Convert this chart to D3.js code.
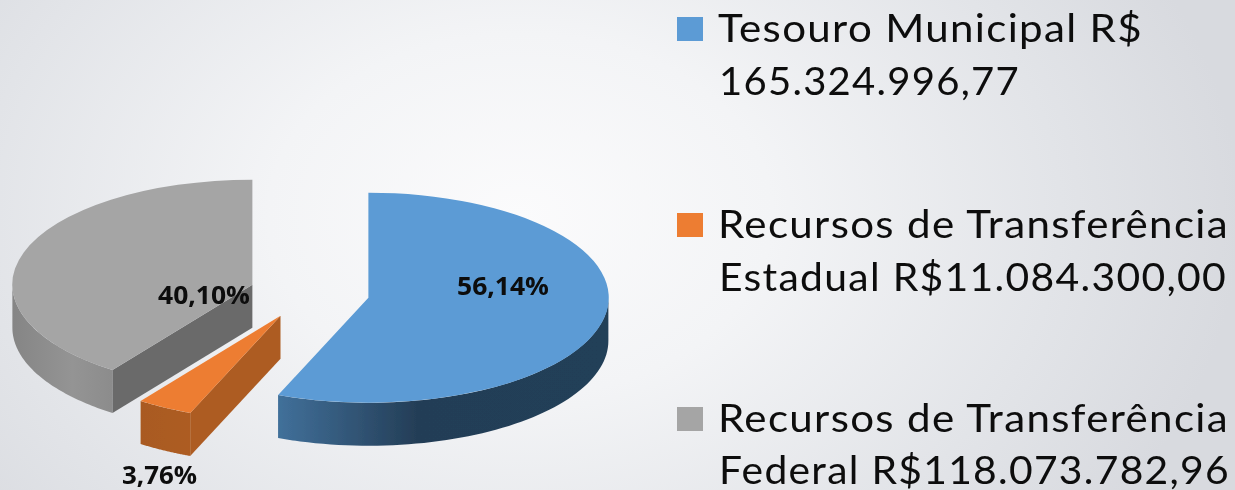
<!DOCTYPE html>
<html><head><meta charset="utf-8">
<style>html,body{margin:0;padding:0;background:#eee}svg{display:block}text{font-family:Lato,"Open Sans",sans-serif}text.val{font-family:"Open Sans",Lato,sans-serif}</style>
<script src="https://cdn.jsdelivr.net/npm/d3@7/dist/d3.min.js"></script></head>
<body><script>
const categories = ["Tesouro Municipal", "Recursos de Transferência Estadual", "Recursos de Transferência Federal"];
const values = [165324996.77, 11084300.00, 118073782.96];
const legendLine1 = ["Tesouro Municipal R$", "Recursos de Transferência", "Recursos de Transferência"];
const legendLine2 = ["165.324.996,77", "Estadual R$11.084.300,00", "Federal R$118.073.782,96"];
const topColors = ["#5b9bd5", "#ed7d31", "#a5a5a5"];
const edgeColors = ["#243f58", "#ad5c23", "#6b6b6b"];
const wallStops = [
  [["#41709a",0],["#243e57",0.42],["#243f58",1]],
  [["#a95a20",0],["#ad5c23",1]],
  [["#858585",0],["#949494",0.6],["#8c8c8c",1]]
];

const W=1235,H=490, cx=309.5, cy=292.7, rx=240, ry=105, depth=43, explode=60;
const svg=d3.select("body").append("svg").attr("width",W).attr("height",H);
const defs=svg.append("defs");
defs.append("filter").attr("id","soft").attr("x","-5%").attr("y","-5%").attr("width","110%").attr("height","110%")
  .append("feGaussianBlur").attr("stdDeviation",0.45);
const bg=defs.append("radialGradient").attr("id","bg").attr("gradientUnits","userSpaceOnUse")
  .attr("cx",520).attr("cy",215).attr("r",720).attr("gradientTransform","translate(520 215) scale(1 .72) translate(-520 -215)");
[["0","#fbfbfc"],["0.35","#f3f4f6"],["0.75","#e2e4e8"],["1","#d8dadf"]].forEach(s=>bg.append("stop").attr("offset",s[0]).attr("stop-color",s[1]));
svg.append("rect").attr("width",W).attr("height",H).attr("fill","url(#bg)");
const chart=svg.append("g").attr("filter","url(#soft)");

const pie=d3.pie().sort(null).value(d=>d).startAngle(0).endAngle(2*Math.PI);
const arcs=pie(values);
const total=d3.sum(values);
const fmt=v=>d3.format(".2f")(v/total*100).replace(".",",")+"%";
const arcGen=d3.arc().innerRadius(0).outerRadius(1);
const px=d3.scaleLinear().domain([-1,1]).range([-rx,rx]);
const py=d3.scaleLinear().domain([-1,1]).range([-ry,ry]);
const pt=(a,r=1)=>[px(r*Math.sin(a)),py(-r*Math.cos(a))];
const line=d3.line();

// back-to-front: grey, orange, blue
[2,1,0].forEach(i=>{
  const d=arcs[i], mid=(d.startAngle+d.endAngle)/2;
  const off=[cx+explode*Math.sin(mid), cy-explode*Math.cos(mid)*ry/rx];
  const g=chart.append("g").attr("transform",`translate(${off[0]},${off[1]})`);
  // outer wall
  const a0=Math.max(d.startAngle,Math.PI/2), a1=Math.min(d.endAngle,3*Math.PI/2);
  if(a1>a0){
    const gid="wall"+i, xa=d3.min([pt(a0)[0],pt(a1)[0]]), xb=d3.max([pt(a0)[0],pt(a1)[0]]);
    const gr=defs.append("linearGradient").attr("id",gid).attr("gradientUnits","userSpaceOnUse")
      .attr("x1",xa).attr("x2",xb).attr("y1",0).attr("y2",0);
    wallStops[i].forEach(s=>gr.append("stop").attr("offset",s[1]).attr("stop-color",s[0]));
    const as=d3.range(0,61).map(k=>a0+(a1-a0)*k/60);
    const top=as.map(a=>pt(a));
    const bot=as.map(a=>pt(a)).map(p=>[p[0],p[1]+depth]).reverse();
    g.append("path").attr("d",line(top.concat(bot))+"Z").attr("fill",`url(#${gid})`);
  }
  // cut-edge wall
  if(Math.sin(d.startAngle)<0){
    const p=pt(d.startAngle);
    g.append("path").attr("d",line([[0,0],p,[p[0],p[1]+depth],[0,depth]])+"Z").attr("fill",edgeColors[i]);
  }
  // top face
  g.append("path").attr("d",arcGen(d)).attr("transform",`scale(${rx},${ry})`).attr("fill",topColors[i]);
});

// value labels (same order as values)
const labelPos=[[503,295,92],[159.5,484,75],[204,304,92]];
arcs.forEach((d,i)=>{
  chart.append("text").attr("class","val").attr("x",labelPos[i][0]).attr("y",labelPos[i][1]).attr("text-anchor","middle")
    .attr("font-size",25).attr("font-weight",700).attr("fill","#0a0a0a")
    .attr("textLength",labelPos[i][2]).attr("lengthAdjust","spacingAndGlyphs").text(fmt(d.value));
});

// legend
const legY=[42,238,432], legGap=[52.5,52.5,51.5];
const w1=[425,511,511], w2=[301,508,511];
categories.forEach((c,i)=>{
  chart.append("rect").attr("x",677).attr("y",legY[i]-25).attr("width",26).attr("height",24).attr("fill",topColors[i]);
  const t=chart.append("g").attr("fill","#0a0a0a").attr("font-size",38).attr("letter-spacing",1.2);
  t.append("text").attr("x",718).attr("y",legY[i]).attr("textLength",w1[i]).attr("lengthAdjust","spacingAndGlyphs").text(legendLine1[i]);
  t.append("text").attr("x",719).attr("y",legY[i]+legGap[i]).attr("textLength",w2[i]).attr("lengthAdjust","spacingAndGlyphs").text(legendLine2[i]);
});
</script></body></html>
